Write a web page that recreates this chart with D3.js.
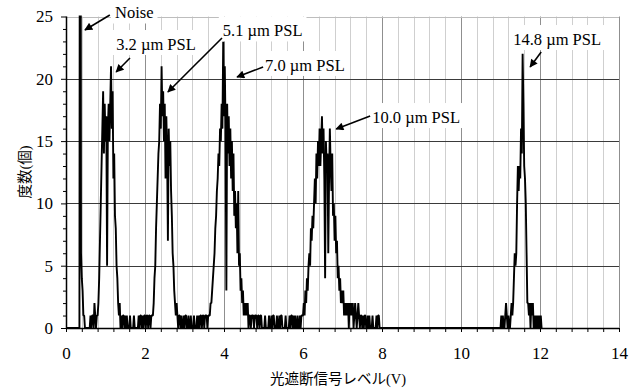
<!DOCTYPE html>
<html>
<head>
<meta charset="utf-8">
<script src="https://cdn.jsdelivr.net/npm/d3@7"></script>
<style>
    body { margin: 0; background: #fff; }
</style>
</head>
<body>
<script>
// bin width of the histogram (V):
var binWidth = 0.02;

// counts per bin, each run starts at the voltage given with it:
var noiseStart = 0.00;
var noiseCounts = [0,0,0,0,0,0,0,0,0,0, 0,0,0,0,0,0,0,0,80,6,
    4,3,1,1,0,0,0,0,0,0, 0,1,0,1,1,0,2,1,0,1];

var psl32Start = 0.80;
var psl32Counts = [1,2,4,7,10,13,16,19,14,18, 15,17,5,16,18,15,18,21,16,19,
    12,14,9,8,5,4,2,1,2,0];

var gap1Start = 1.40;
var gap1Counts = [1,0,1,1,0,1,0,1,0,0, 0,1,0,0,0,0,1,0,0,0,
    0,0,1,0,1,1,0,1,0,1, 1,0,1,1,0,1,1,0,1,1];

var psl51Start = 2.20;
var psl51Counts = [1,2,4,5,8,10,12,14,15,18, 16,21,17,19,15,18,12,17,14,7,
    16,13,15,11,9,6,5,3,2,1, 2,1,0,1];

var gap2Start = 2.88;
var gap2Counts = [1,0,1,0,0,1,0,1,1,0, 0,1,0,0,1,0,0,0,1,0,
    0,0,1,0,1,0,1,1,0,1, 1,0,1,1,1,0,1,1];

var psl70Start = 3.64;
var psl70Counts = [1,2,2,3,4,5,6,8,9,11, 12,14,13,16,15,18,16,23,17,21,
    16,3,18,14,17,13,16,12,15,11, 14,9,11,8,10,6,11,5,6,3,
    4,2,3,1,2,1,2,1,2,0, 1,1,0,1];

var gap3Start = 4.72;
var gap3Counts = [1,1,0,1,1,1,0,1,1,0, 1,1,0,0,0,0,1,0,0,0,
    0,1,0,0,1,0,1,1,0,0, 0,1,0,0,1,0,1,1,0,0,
    0,0,1,0,0,0,0,1,0,1, 1,0,1,0,1,0,0,1,0];

var psl100Start = 5.90;
var psl100Counts = [0,1,0,1,1,1,2,1,3,2, 4,3,5,6,5,8,7,9,8,10,
    12,10,14,12,15,13,16,13,15,17, 14,16,12,4,15,13,14,6,12,16,
    13,11,14,9,10,7,9,6,7,4, 5,3,4,2,3,2,3,1,2,1,
    2,1,2,0,2,1,2,1,2,0, 1,2,1,0,1,2,1,0,1,1,
    0,1,0,1,1,0,0,1,0,1, 0,0,0,1,0,0,0,0,1,0,
    1,1,0,0,0];

var psl148Start = 11.00;
var psl148Counts = [0,1,0,1,0,0,1,2,1,0, 1,0,0,1,2,1,2,4,6,5,
    6,10,13,11,13,12,16,14,22,18, 13,12,10,6,2,2,1,2,0,2,
    1,2,0,1,0,1,0,1,0,1, 0,1,0];

// axis ticks:
var xMajorTicks = [0, 2, 4, 6, 8, 10, 12, 14];
var yMajorTicks = [0, 5, 10, 15, 20, 25];

// annotation labels (text anchor, arrow tail, arrow head in data units):
var labelTexts = ["Noise", "3.2 \u00b5m PSL", "5.1 \u00b5m PSL", "7.0 \u00b5m PSL", "10.0 \u00b5m PSL", "14.8 \u00b5m PSL"];
var labelAt = [[1.24, 24.84], [1.27, 22.31], [3.97, 23.4], [5.04, 20.63], [7.75, 16.45], [11.32, 22.71]];
var arrowFrom = [[1.11, 25.12], [1.62, 21.67], [3.95, 23.27], [4.99, 20.95], [7.70, 17.01], [12.03, 22.15]];
var arrowTo = [[0.48, 23.92], [1.27, 20.55], [2.58, 18.94], [4.33, 20.14], [6.84, 15.97], [11.75, 20.95]];

window.onload = function(){

    var w = 633, h = 389;
    var left = 66, right = 619, top = 16.5, bottom = 328;
    var serif = "'Liberation Serif', 'DejaVu Serif', serif";
    var cjk = "'Liberation Serif', 'Noto Sans CJK JP', serif";

    var svg = d3.select("body")
        .append("svg")
        .attr("width", w)
        .attr("height", h);

    // scales:
    var x = d3.scaleLinear().domain([0, 14]).range([left, right]);
    var y = d3.scaleLinear().domain([0, 25]).range([bottom, top]);

    // flatten the runs into [voltage, count] points:
    var runs = [
        [noiseStart, noiseCounts], [psl32Start, psl32Counts], [gap1Start, gap1Counts],
        [psl51Start, psl51Counts], [gap2Start, gap2Counts], [psl70Start, psl70Counts],
        [gap3Start, gap3Counts], [psl100Start, psl100Counts], [psl148Start, psl148Counts]
    ];
    var points = [];
    runs.forEach(function(r){
        r[1].forEach(function(c, i){
            points.push([r[0] + i * binWidth, c]);
        });
    });

    // vertical grid, minor every 0.4 V, darker every 2 V:
    var xMinor = d3.range(0, 36).map(function(i){ return i * 0.4; });
    svg.append("g").selectAll("line")
        .data(xMinor)
        .enter()
        .append("line")
        .attr("x1", function(d){ return Math.round(x(d)) + 0.5; })
        .attr("x2", function(d){ return Math.round(x(d)) + 0.5; })
        .attr("y1", y(25))
        .attr("y2", y(0))
        .style("stroke", function(d, i){ return i % 5 == 0 ? "#8f8f8f" : "#cfcfcf"; })
        .style("stroke-width", 1);

    // horizontal grid:
    svg.append("g").selectAll("line")
        .data(yMajorTicks.slice(1))
        .enter()
        .append("line")
        .attr("x1", x(0))
        .attr("x2", x(14))
        .attr("y1", function(d){ return Math.round(y(d)) + 0.5; })
        .attr("y2", function(d){ return Math.round(y(d)) + 0.5; })
        .style("stroke", function(d){ return d == 25 ? "#bdbdbd" : "#3a3a3a"; })
        .style("stroke-width", 1);

    // clip the histogram to the plot area:
    svg.append("clipPath")
        .attr("id", "plotClip")
        .append("rect")
        .attr("x", left)
        .attr("y", top - 1)
        .attr("width", right - left)
        .attr("height", bottom - top + 3);

    var line = d3.line()
        .x(function(d){ return x(d[0]); })
        .y(function(d){ return y(d[1]); });

    svg.append("path")
        .datum(points)
        .attr("clip-path", "url(#plotClip)")
        .attr("d", line)
        .style("fill", "none")
        .style("stroke", "#000")
        .style("stroke-width", 1.9)
        .style("stroke-linejoin", "bevel");

    // x axis:
    var xAxis = d3.axisBottom(x)
        .tickValues(xMinor)
        .tickSize(4)
        .tickPadding(15)
        .tickFormat(function(d, i){ return i % 5 == 0 ? d3.format("d")(Math.round(d)) : ""; });

    var gx = svg.append("g")
        .attr("transform", "translate(0," + bottom + ")")
        .call(xAxis)
        .attr("font-family", serif)
        .attr("font-size", 17);
    gx.select(".domain").attr("d", "M" + left + ",0.5H" + right).style("stroke", "#000").style("stroke-width", 1.3);
    gx.selectAll(".tick line").style("stroke", "#000");

    // y axis, minor ticks every 1:
    var yAxis = d3.axisLeft(y)
        .tickValues(d3.range(0, 26))
        .tickSize(3)
        .tickPadding(10)
        .tickFormat(function(d){ return d % 5 == 0 ? d : ""; });

    var gy = svg.append("g")
        .attr("transform", "translate(" + left + ",0)")
        .call(yAxis)
        .attr("font-family", serif)
        .attr("font-size", 17);
    gy.select(".domain").attr("d", "M0.5," + top + "V" + bottom).style("stroke", "#000").style("stroke-width", 1.5);
    gy.selectAll(".tick line")
        .attr("x2", function(d){ return d % 5 == 0 ? -5 : -3; })
        .style("stroke", "#000");

    // axis titles:
    svg.append("text")
        .attr("x", 338)
        .attr("y", 384)
        .attr("text-anchor", "middle")
        .attr("font-family", cjk)
        .attr("font-size", 14.5)
        .text("光遮断信号レベル(V)");

    svg.append("text")
        .attr("transform", "translate(25,172) rotate(-90)")
        .attr("text-anchor", "middle")
        .attr("dominant-baseline", "central")
        .attr("font-family", cjk)
        .attr("font-size", 14.5)
        .text("度数(個)");

    // arrowhead marker:
    svg.append("defs").append("marker")
        .attr("id", "head")
        .attr("markerUnits", "userSpaceOnUse")
        .attr("viewBox", "0 0 10 10")
        .attr("refX", 9)
        .attr("refY", 5)
        .attr("markerWidth", 9)
        .attr("markerHeight", 8)
        .attr("orient", "auto")
        .append("path")
        .attr("d", "M0,0L10,5L0,10Z")
        .style("fill", "#000");

    // labels with white boxes:
    var labels = svg.append("g").selectAll("g")
        .data(labelTexts)
        .enter()
        .append("g");

    var texts = labels.append("text")
        .attr("x", function(d, i){ return x(labelAt[i][0]); })
        .attr("y", function(d, i){ return y(labelAt[i][1]); })
        .attr("font-family", serif)
        .attr("font-size", 16.5)
        .text(function(d){ return d; });

    texts.each(function(){
        var b = this.getBBox();
        d3.select(this.parentNode).insert("rect", "text")
            .attr("x", b.x - 4)
            .attr("y", b.y - 5)
            .attr("width", b.width + 8)
            .attr("height", b.height + 6)
            .style("fill", "#fff");
    });

    // arrows:
    labels.append("line")
        .attr("x1", function(d, i){ return x(arrowFrom[i][0]); })
        .attr("y1", function(d, i){ return y(arrowFrom[i][1]); })
        .attr("x2", function(d, i){ return x(arrowTo[i][0]); })
        .attr("y2", function(d, i){ return y(arrowTo[i][1]); })
        .attr("marker-end", "url(#head)")
        .style("stroke", "#000")
        .style("stroke-width", 1.6);

};
</script>
</body>
</html>
